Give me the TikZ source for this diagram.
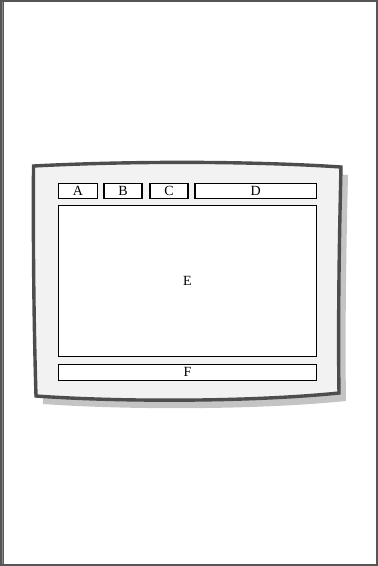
\documentclass[tikz,border=0pt]{standalone}
\usepackage{fontspec}
\setmainfont{Liberation Serif}
\definecolor{framegray}{HTML}{555555}
\definecolor{framelight}{HTML}{8A8A8A}
\definecolor{screenfill}{HTML}{F2F2F2}
\definecolor{screenline}{HTML}{4D4D4D}
\definecolor{shadowgray}{HTML}{C4C4C4}
\tikzset{
  panel/.style={draw=black, line width=1.1pt, fill=white, inner sep=0pt, font=\fontsize{14}{14}\selectfont},
  screen/.style={draw=screenline, line width=3.4pt, fill=screenfill, line join=miter},
}
\begin{document}
\begin{tikzpicture}[x=1pt,y=-1pt]
\useasboundingbox (0,0) rectangle (378,566);
% outer frame
\draw[framegray, line width=2pt] (1,1) rectangle (377,565);
\draw[framelight, line width=1pt] (2.5,2) -- (2.5,564);
\draw[framegray, line width=1.2pt] (3.6,2) -- (3.6,564);
% shadow
\fill[shadowgray] (40.5,174) .. controls (137,169) and (257,169) .. (348,175)
  .. controls (346,258) and (345,338) .. (346,401)
  .. controls (257,410) and (127,410) .. (43,404)
  .. controls (41,338) and (40,258) .. cycle;
% screen
\draw[screen] (33.5,166) .. controls (130,161) and (250,161) .. (341,167)
  .. controls (339,250) and (338,330) .. (339,393)
  .. controls (250,402) and (120,402) .. (36,396)
  .. controls (34,330) and (33,250) .. cycle;
% panels
\node[panel, minimum width=39pt, minimum height=15pt] (A) at (78,191) {A};
\node[panel, minimum width=38pt, minimum height=15pt] (B) at (123,191) {B};
\node[panel, minimum width=38pt, minimum height=15pt] (C) at (169,191) {C};
\node[panel, minimum width=121.5pt, minimum height=15pt] (D) at (255.75,191) {D};
\node[panel, minimum width=258pt, minimum height=151pt] (E) at (187.5,281.2) {E};
\node[panel, minimum width=258pt, minimum height=15.7pt] (F) at (187.5,372.2) {F};
\end{tikzpicture}
\end{document}
